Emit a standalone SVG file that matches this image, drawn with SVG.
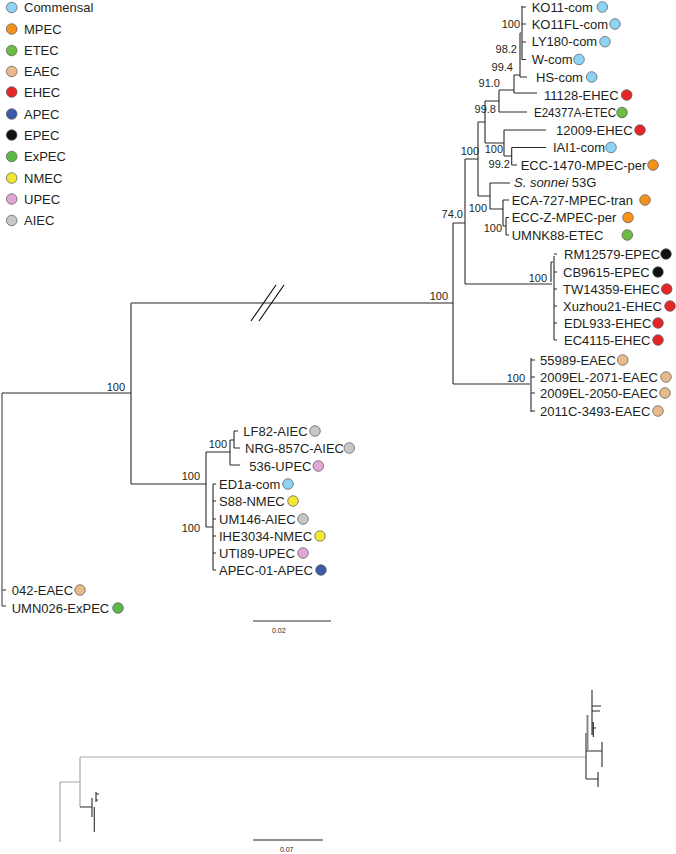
<svg xmlns="http://www.w3.org/2000/svg" width="676" height="854" viewBox="0 0 676 854">
<style>
text{font-family:"Liberation Sans",Arial,sans-serif;fill:#231f20}
.lf{font-size:13px}
.bs{font-size:11px}
.sc{font-size:7px}
.br{fill:none;stroke:#2a2a2a;stroke-width:1.1}
.bg{fill:none;stroke:#6e6e6e;stroke-width:1.4}
.bk{fill:none;stroke:#8a8a8a;stroke-width:2}
.bl{fill:none;stroke:#a8a8a8;stroke-width:1.2}
.dot{stroke:#555;stroke-width:0.7}
.com{fill:#8fd3f2}.mpec{fill:#f5921e}.etec{fill:#6cbd45}.eaec{fill:#e8b98a}.ehec{fill:#e52629}.apec{fill:#3b5ba9}.epec{fill:#111}.expec{fill:#5cb947}.nmec{fill:#f2e833}.upec{fill:#e3a6d2}.aiec{fill:#c7c7c7}
</style>
<g id="legend">
<circle class="dot com" cx="11.7" cy="7.5" r="5.3"/><text class="lf" x="24" y="12">Commensal</text>
<circle class="dot mpec" cx="11.7" cy="29" r="5.3"/><text class="lf" x="24" y="33.5">MPEC</text>
<circle class="dot etec" cx="11.7" cy="50.5" r="5.3"/><text class="lf" x="24" y="55">ETEC</text>
<circle class="dot eaec" cx="11.7" cy="71.5" r="5.3"/><text class="lf" x="24" y="76">EAEC</text>
<circle class="dot ehec" cx="11.7" cy="92" r="5.3"/><text class="lf" x="24" y="96.5">EHEC</text>
<circle class="dot apec" cx="11.7" cy="114" r="5.3"/><text class="lf" x="24" y="118.5">APEC</text>
<circle class="dot epec" cx="11.7" cy="135" r="5.3"/><text class="lf" x="24" y="139.5">EPEC</text>
<circle class="dot expec" cx="11.7" cy="156.5" r="5.3"/><text class="lf" x="24" y="161">ExPEC</text>
<circle class="dot nmec" cx="11.7" cy="178" r="5.3"/><text class="lf" x="24" y="182.5">NMEC</text>
<circle class="dot upec" cx="11.7" cy="199" r="5.3"/><text class="lf" x="24" y="203.5">UPEC</text>
<circle class="dot aiec" cx="11.7" cy="220.5" r="5.3"/><text class="lf" x="24" y="225">AIEC</text>
</g>
<g id="connectors">
<path class="bg" d="M2,393V606M2,590H6M2,606H6"/>
<path class="br" d="M2,393H131"/>
<path class="br" d="M131,303V484"/>
<path class="bg" d="M131,303H453"/>
<path d="M251,321L276,285M259,321L284,285" fill="none" stroke="#111" stroke-width="1.2"/>
<path class="br" d="M453,223V384M453,223H465M465,159V284M453,384H531M465,284H552"/>
<path class="bk" d="M531,358V412"/>
<path class="br" d="M531,360H535M531,377H535M531,393H535M531,411H535"/>
<path class="bk" d="M554,256V340"/>
<path class="br" d="M551,262V282M551,262H553M554,254H557M554,272H557M554,289H557M554,306H557M554,323H557M554,340H557"/>
<path class="br" d="M465,159H478M478,122V196"/>
<path class="br" d="M478,122H485M485,101V143M485,101H499M499,90V112M499,112H527M499,90H514M514,75V93M514,93H537M514,75H520M520,33V77M520,77H527M520,33H522"/>
<path class="bk" d="M522,6V60"/>
<path class="br" d="M522,7H526M522,24H526M522,42H526M522,59.5H526"/>
<path class="br" d="M485,143H504M504,130V156M504,130H546M504,156H511.7M511.7,147.5V165M511.7,147.5H546M511.7,165H517"/>
<path class="br" d="M478,196H490M490,183V209M490,183H510M490,209H503M503,200V226M503,200H509M503,226H506M506,217.5V235M506,217.5H509M506,235H509"/>
<path class="br" d="M131,484H206M206,452V527M206,452H230M230,440V465M230,465H240M230,440H234M234,431V448M234,431H238M234,448H240"/>
<path class="br" d="M206,527H213M213,484V570M213,484H216M213,501H216M213,519H216M213,536H216M213,553H216M213,570H216"/>
<path d="M253,621H331" stroke="#777" stroke-width="1.6"/>
</g>
<g id="bootstrap">
<text class="bs" x="520" y="28" text-anchor="end">100</text>
<text class="bs" x="517" y="53" text-anchor="end">98.2</text>
<text class="bs" x="513" y="71" text-anchor="end">99.4</text>
<text class="bs" x="500" y="87" text-anchor="end">91.0</text>
<text class="bs" x="496" y="113" text-anchor="end">99.8</text>
<text class="bs" x="479" y="155" text-anchor="end">100</text>
<text class="bs" x="503" y="153" text-anchor="end">100</text>
<text class="bs" x="510" y="168" text-anchor="end">99.2</text>
<text class="bs" x="487" y="212" text-anchor="end">100</text>
<text class="bs" x="502" y="232" text-anchor="end">100</text>
<text class="bs" x="463" y="218" text-anchor="end">74.0</text>
<text class="bs" x="448" y="300" text-anchor="end">100</text>
<text class="bs" x="547" y="282" text-anchor="end">100</text>
<text class="bs" x="525" y="382" text-anchor="end">100</text>
<text class="bs" x="125" y="391" text-anchor="end">100</text>
<text class="bs" x="200" y="480" text-anchor="end">100</text>
<text class="bs" x="227" y="448" text-anchor="end">100</text>
<text class="bs" x="200" y="532" text-anchor="end">100</text>
<text class="sc" x="272" y="633">0.02</text>
</g>
<g id="leaves">
<g id="n-KO11"><text class="lf" x="531.7" y="11.5">KO11-com</text><circle class="dot com" cx="602.3" cy="7" r="5.3"/></g>
<g id="n-KO11FL"><text class="lf" x="531.7" y="28.5">KO11FL-com</text><circle class="dot com" cx="615" cy="24" r="5.3"/></g>
<g id="n-LY180"><text class="lf" x="531.7" y="46.2">LY180-com</text><circle class="dot com" cx="605" cy="41.7" r="5.3"/></g>
<g id="n-W"><text class="lf" x="531.7" y="64">W-com</text><circle class="dot com" cx="579" cy="59.5" r="5.3"/></g>
<g id="n-HS"><text class="lf" x="536" y="81.5">HS-com</text><circle class="dot com" cx="591.7" cy="77" r="5.3"/></g>
<g id="n-11128"><text class="lf" x="544" y="99.5">11128-EHEC</text><circle class="dot ehec" cx="626.7" cy="95" r="5.3"/></g>
<g id="n-E24377A"><text class="lf" x="534" y="117" textLength="82" lengthAdjust="spacingAndGlyphs">E24377A-ETEC</text><circle class="dot etec" cx="622" cy="112.5" r="5.3"/></g>
<g id="n-12009"><text class="lf" x="556" y="134.5">12009-EHEC</text><circle class="dot ehec" cx="640" cy="130" r="5.3"/></g>
<g id="n-IAI1"><text class="lf" x="553" y="152">IAI1-com</text><circle class="dot com" cx="611" cy="147.5" r="5.3"/></g>
<g id="n-ECC1470"><text class="lf" x="520.7" y="169.5">ECC-1470-MPEC-per</text><circle class="dot mpec" cx="653" cy="165" r="5.3"/></g>
<g id="n-sonnei"><text class="lf" x="514" y="186.5"><tspan font-style="italic">S. sonnei</tspan> 53G</text></g>
<g id="n-ECA727"><text class="lf" x="511.7" y="204.5">ECA-727-MPEC-tran</text><circle class="dot mpec" cx="645" cy="200" r="5.3"/></g>
<g id="n-ECCZ"><text class="lf" x="511.7" y="222">ECC-Z-MPEC-per</text><circle class="dot mpec" cx="628" cy="217.5" r="5.3"/></g>
<g id="n-UMNK88"><text class="lf" x="511.7" y="239.5">UMNK88-ETEC</text><circle class="dot etec" cx="627.3" cy="235" r="5.3"/></g>
<g id="n-RM12579"><text class="lf" x="564" y="258.5">RM12579-EPEC</text><circle class="dot epec" cx="666" cy="254" r="5.3"/></g>
<g id="n-CB9615"><text class="lf" x="563" y="276.5">CB9615-EPEC</text><circle class="dot epec" cx="658" cy="272" r="5.3"/></g>
<g id="n-TW14359"><text class="lf" x="563" y="293.5">TW14359-EHEC</text><circle class="dot ehec" cx="666.7" cy="289" r="5.3"/></g>
<g id="n-Xuzhou21"><text class="lf" x="563" y="310.5">Xuzhou21-EHEC</text><circle class="dot ehec" cx="670" cy="306" r="5.3"/></g>
<g id="n-EDL933"><text class="lf" x="564" y="327.5">EDL933-EHEC</text><circle class="dot ehec" cx="658" cy="323" r="5.3"/></g>
<g id="n-EC4115"><text class="lf" x="564" y="344.5">EC4115-EHEC</text><circle class="dot ehec" cx="658" cy="340" r="5.3"/></g>
<g id="n-55989"><text class="lf" x="540" y="364.5">55989-EAEC</text><circle class="dot eaec" cx="622.7" cy="360" r="5.3"/></g>
<g id="n-2071"><text class="lf" x="540" y="381.5">2009EL-2071-EAEC</text><circle class="dot eaec" cx="666" cy="377" r="5.3"/></g>
<g id="n-2050"><text class="lf" x="540" y="397.5">2009EL-2050-EAEC</text><circle class="dot eaec" cx="665" cy="393" r="5.3"/></g>
<g id="n-2011C"><text class="lf" x="540" y="415.5">2011C-3493-EAEC</text><circle class="dot eaec" cx="658" cy="411" r="5.3"/></g>
<g id="n-LF82"><text class="lf" x="243.3" y="435.5">LF82-AIEC</text><circle class="dot aiec" cx="315" cy="431" r="5.3"/></g>
<g id="n-NRG"><text class="lf" x="245" y="452.5">NRG-857C-AIEC</text><circle class="dot aiec" cx="349.3" cy="448" r="5.3"/></g>
<g id="n-536"><text class="lf" x="249.3" y="470.5">536-UPEC</text><circle class="dot upec" cx="318.3" cy="466" r="5.3"/></g>
<g id="n-ED1a"><text class="lf" x="219" y="488.5">ED1a-com</text><circle class="dot com" cx="288" cy="484" r="5.3"/></g>
<g id="n-S88"><text class="lf" x="219" y="505.5">S88-NMEC</text><circle class="dot nmec" cx="293" cy="501" r="5.3"/></g>
<g id="n-UM146"><text class="lf" x="219" y="523.5">UM146-AIEC</text><circle class="dot aiec" cx="303" cy="519" r="5.3"/></g>
<g id="n-IHE3034"><text class="lf" x="219" y="540.5">IHE3034-NMEC</text><circle class="dot nmec" cx="320" cy="536" r="5.3"/></g>
<g id="n-UTI89"><text class="lf" x="219" y="557.5">UTI89-UPEC</text><circle class="dot upec" cx="303" cy="553" r="5.3"/></g>
<g id="n-APEC01"><text class="lf" x="219" y="574.5">APEC-01-APEC</text><circle class="dot apec" cx="321" cy="570" r="5.3"/></g>
<g id="n-042"><text class="lf" x="11.7" y="594.5">042-EAEC</text><circle class="dot eaec" cx="80" cy="590" r="5.3"/></g>
<g id="n-UMN026"><text class="lf" x="11.7" y="612.5">UMN026-ExPEC</text><circle class="dot expec" cx="118" cy="608" r="5.3"/></g>
</g>
<g id="inset">
<path class="bl" d="M60,782V842M60,782H80M80,757V807M80,757H586"/>
<path class="br" d="M80,807H92M92,798V817M94.3,807V832M96,792V802M96,794H99M96,800H98"/>
<path class="bk" d="M586,733V779M587.5,715V750"/>
<path class="br" d="M592,690V735M592,706H601M592,711H600M593.3,722V737M593.3,728H596M586,751H602M602,742V767M586,779H598M598,772V787"/>
<path d="M253,840H323" stroke="#222" stroke-width="1.2"/>
<text class="sc" x="286.7" y="851.5" text-anchor="middle">0.07</text>
</g>
</svg>
